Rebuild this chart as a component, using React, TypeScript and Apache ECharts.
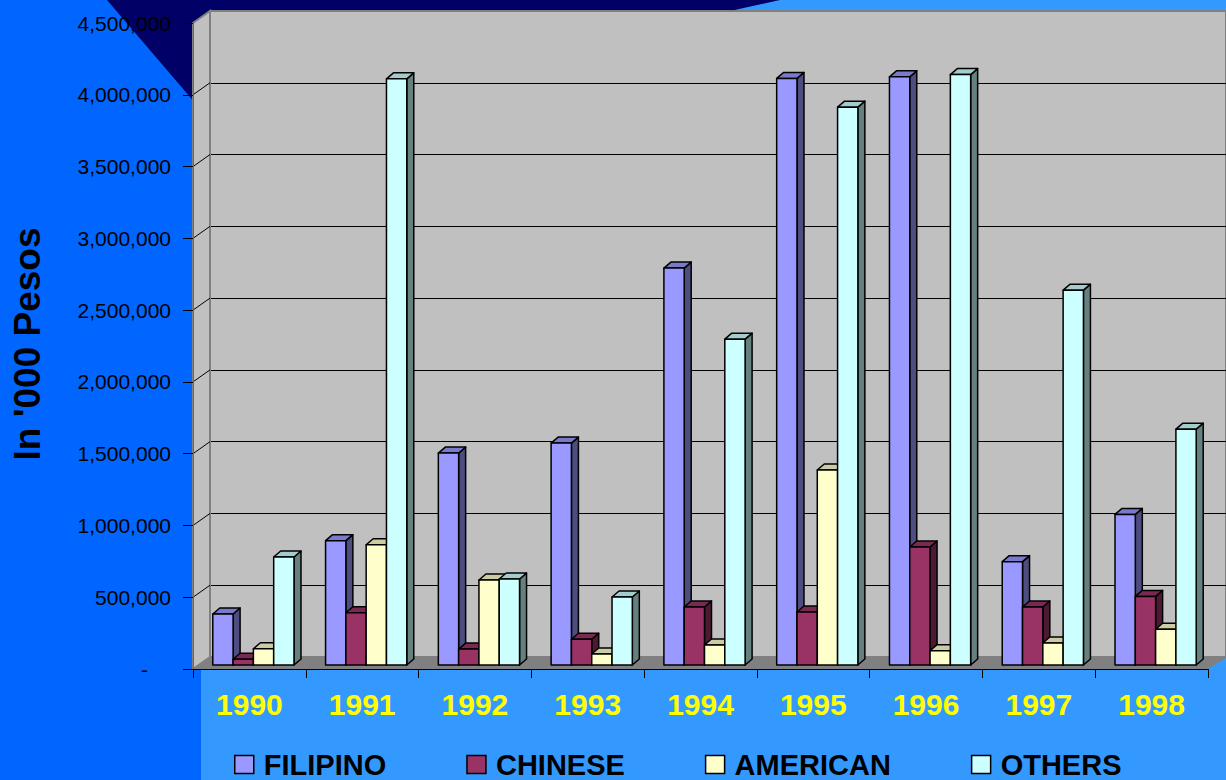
import React, { useEffect, useRef } from "react";
import * as echarts from "echarts";

// Values in thousands of pesos, 1990-1998
const years = ["1990", "1991", "1992", "1993", "1994", "1995", "1996", "1997", "1998"];
const filipino = [355000, 866000, 1476000, 1546000, 2765000, 4086000, 4097000, 720000, 1049000];
const chinese = [40000, 364000, 111000, 179000, 404000, 369000, 822000, 404000, 478000];
const american = [113000, 838000, 592000, 77000, 139000, 1358000, 100000, 153000, 249000];
const others = [752000, 4083000, 599000, 474000, 2270000, 3886000, 4113000, 2611000, 1643000];
const yTicks = [0, 500000, 1000000, 1500000, 2000000, 2500000, 3000000, 3500000, 4000000, 4500000];

const Y_MIN = yTicks[0];
const Y_MAX = yTicks[yTicks.length - 1];
const Y_STEP = yTicks[1] - yTicks[0];

const FONT = '"Liberation Sans", Arial, Helvetica, sans-serif';

type Palette = { front: string; side: string; top: string };
const palettes: Palette[] = [
  { front: "#9999FF", side: "#4D4D80", top: "#7A7ACC" },
  { front: "#993366", side: "#4D1A33", top: "#7A2952" },
  { front: "#FFFFCC", side: "#808066", top: "#CCCCA3" },
  { front: "#CCFFFF", side: "#668080", top: "#A3CCCC" },
];
const seriesNames = ["FILIPINO", "CHINESE", "AMERICAN", "OTHERS"];
const seriesValues = [filipino, chinese, american, others];

// depth of the 3D box (wall) and of each bar
const WALL_DX = 17;
const WALL_DY = 12;
const BAR_DX = 7;
const BAR_DY = 6;

function makeBarRenderer(k: number, pal: Palette) {
  return (params: any, api: any) => {
    const cat = api.value(0);
    const val = api.value(1);
    const top = api.coord([cat, val]);
    const base = api.coord([cat, 0]);
    const band = api.size([1, 0])[0];
    const bw = band * 0.18;
    const left = top[0] - 2 * bw + k * bw;
    const right = left + bw;
    const ty = top[1];
    const by = base[1];
    const stroke = { stroke: "#000", lineWidth: 1.5, lineJoin: "round" };
    return {
      type: "group",
      children: [
        {
          type: "polygon",
          shape: {
            points: [
              [right, ty],
              [right + BAR_DX, ty - BAR_DY],
              [right + BAR_DX, by - BAR_DY],
              [right, by],
            ],
          },
          style: { fill: pal.side, ...stroke },
        },
        {
          type: "polygon",
          shape: {
            points: [
              [left, ty],
              [left + BAR_DX, ty - BAR_DY],
              [right + BAR_DX, ty - BAR_DY],
              [right, ty],
            ],
          },
          style: { fill: pal.top, ...stroke },
        },
        {
          type: "rect",
          shape: { x: left, y: ty, width: bw, height: by - ty },
          style: { fill: pal.front, ...stroke },
        },
      ],
    };
  };
}

// side wall, floor and the short tick connectors on the side wall
function renderFrame(params: any, api: any) {
  const cs = params.coordSys;
  const x0 = cs.x;
  const y0 = cs.y;
  const yb = cs.y + cs.height;
  const xr = cs.x + cs.width;
  const children: any[] = [
    {
      type: "polygon",
      shape: {
        points: [
          [x0, y0],
          [x0 + WALL_DX, y0 - WALL_DY],
          [x0 + WALL_DX, yb - WALL_DY],
          [x0, yb],
        ],
      },
      style: { fill: "#C0C0C0", stroke: "#808080", lineWidth: 2 },
    },
    {
      type: "polygon",
      shape: {
        points: [
          [x0, yb],
          [x0 + WALL_DX, yb - WALL_DY],
          [xr + WALL_DX + 2, yb - WALL_DY],
          [xr, yb],
        ],
      },
      style: { fill: "#808080" },
    },
  ];
  yTicks.forEach((t) => {
    if (t === Y_MIN || t === Y_MAX) return;
    const p = api.coord([0, t]);
    children.push({
      type: "line",
      shape: { x1: x0, y1: p[1], x2: x0 + WALL_DX, y2: p[1] - WALL_DY },
      style: { stroke: "#000", lineWidth: 1 },
    });
  });
  return { type: "group", children };
}

export default function App() {
  const ref = useRef<HTMLDivElement>(null);

  useEffect(() => {
    if (!ref.current) return;
    const chart = echarts.init(ref.current, undefined, { renderer: "svg" });

    const yCommon = { type: "value", min: Y_MIN, max: Y_MAX, interval: Y_STEP };

    const option: any = {
      animation: false,
      backgroundColor: "#0066FF",
      graphic: [
        {
          type: "rect",
          z: -10,
          shape: { x: 201, y: 0, width: 1025, height: 780 },
          style: { fill: "#3399FF" },
        },
        {
          type: "polygon",
          z: -9,
          shape: { points: [[107, 0], [780, 0], [214, 125]] },
          style: { fill: "#000066" },
        },
        {
          type: "text",
          z: 10,
          x: 27,
          y: 344,
          rotation: Math.PI / 2,
          style: {
            text: "In '000 Pesos",
            fill: "#000",
            font: `bold 37px ${FONT}`,
            align: "center",
            verticalAlign: "middle",
          },
        },
      ],
      grid: [
        // back wall
        {
          left: 210,
          top: 11,
          right: 0,
          bottom: 123,
          show: true,
          backgroundColor: "#C0C0C0",
          borderColor: "#808080",
          borderWidth: 2,
          z: 0,
        },
        // front plane (axes)
        { left: 193, top: 23, right: 18, bottom: 111, z: 1 },
        // plane of the bar fronts
        { left: 197, top: 19, right: 14, bottom: 115, z: 2 },
      ],
      xAxis: [
        { type: "category", data: years, gridIndex: 0, show: false },
        {
          type: "category",
          data: years,
          gridIndex: 1,
          z: 10,
          axisLine: { show: true, lineStyle: { color: "#000", width: 1 } },
          axisTick: { show: true, length: 9, lineStyle: { color: "#000", width: 1 } },
          axisLabel: {
            color: "#FFFF00",
            fontWeight: "bold",
            fontSize: 30,
            fontFamily: FONT,
            margin: 20,
          },
          splitLine: { show: false },
        },
        { type: "category", data: years, gridIndex: 2, show: false },
      ],
      yAxis: [
        {
          ...yCommon,
          gridIndex: 0,
          axisLine: { show: false },
          axisTick: { show: false },
          axisLabel: { show: false },
          splitLine: { show: true, showMaxLine: false, lineStyle: { color: "#000", width: 1 } },
        },
        {
          ...yCommon,
          gridIndex: 1,
          z: 10,
          axisLine: { show: true, lineStyle: { color: "#666", width: 1 } },
          axisTick: { show: true, length: 10, lineStyle: { color: "#000", width: 1 } },
          axisLabel: {
            color: "#000",
            fontSize: 21,
            fontFamily: FONT,
            margin: 22,
            formatter: (v: number) => (v === 0 ? "{z|-}" : v.toLocaleString("en-US")),
            rich: {
              z: { color: "#000", fontSize: 21, fontFamily: FONT, padding: [0, 23, 0, 0] },
            },
          },
          splitLine: { show: false },
        },
        { ...yCommon, gridIndex: 2, show: false, splitLine: { show: false } },
      ],
      legend: {
        left: 234,
        top: 750,
        padding: 0,
        itemWidth: 19,
        itemHeight: 18,
        itemGap: 80,
        icon: "rect",
        selectedMode: false,
        textStyle: {
          color: "#000",
          fontWeight: "bold",
          fontSize: 29,
          fontFamily: FONT,
          padding: [0, 0, 0, 5],
        },
        data: seriesNames.map((n, i) => ({
          name: n,
          itemStyle: { color: palettes[i].front, borderColor: "#000", borderWidth: 1.5 },
        })),
      },
      series: [
        {
          type: "custom",
          name: "frame",
          coordinateSystem: "cartesian2d",
          xAxisIndex: 1,
          yAxisIndex: 1,
          data: [[0, 0]],
          renderItem: renderFrame,
          clip: false,
          silent: true,
          z: 1,
        },
        ...seriesNames.map((n, k) => ({
          type: "custom",
          name: n,
          coordinateSystem: "cartesian2d",
          xAxisIndex: 2,
          yAxisIndex: 2,
          data: seriesValues[k].map((v, i) => [i, v]),
          encode: { x: 0, y: 1 },
          renderItem: makeBarRenderer(k, palettes[k]),
          itemStyle: { color: palettes[k].front, borderColor: "#000" },
          clip: false,
          z: 2,
        })),
      ],
    };

    chart.setOption(option);
    return () => chart.dispose();
  }, []);

  return (
    <div
      ref={ref}
      style={{ position: "absolute", left: 0, top: 0, width: 1226, height: 780 }}
    />
  );
}
